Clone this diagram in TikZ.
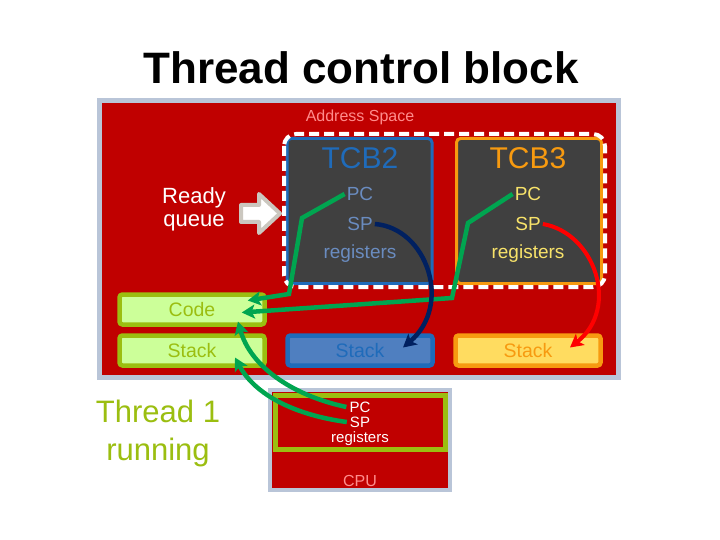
\documentclass[tikz,border=0pt]{standalone}
\usepackage{fontspec}
\setmainfont{Liberation Sans}
\usepackage{xcolor}
\usepackage{tikz}
\usetikzlibrary{positioning,arrows.meta}

\definecolor{asred}{HTML}{C00000}
\definecolor{frame}{HTML}{B9C5D8}
\definecolor{tcbgrey}{HTML}{404040}
\definecolor{tcbblue}{HTML}{1F6BBA}
\definecolor{tcbbluetext}{HTML}{6A8CC0}
\definecolor{tcborange}{HTML}{F79A10}
\definecolor{tcbyellow}{HTML}{F8E36A}
\definecolor{limegreen}{HTML}{9BBE10}
\definecolor{palegreen}{HTML}{CCFF99}
\definecolor{stackblue}{HTML}{4F7FC0}
\definecolor{stackyellow}{HTML}{FFDC60}
\definecolor{linkgreen}{HTML}{00A550}
\definecolor{navy}{HTML}{002060}
\definecolor{pinktext}{HTML}{FF8C8C}
\definecolor{arrowgrey}{HTML}{CBC7BF}

\begin{document}
\begin{tikzpicture}[x=1pt,y=-1pt,
    txt/.style={inner sep=0pt, anchor=center},
    tcbbox/.style={rectangle, draw, line width=3pt, fill=tcbgrey, rounded corners=4pt,
        minimum width=145pt, minimum height=145pt},
    membox/.style={rectangle, draw, line width=4.5pt, rounded corners=3pt,
        minimum width=145pt, minimum height=30pt, font=\fontsize{19.5}{20}\selectfont},
    regtxt/.style={txt, font=\fontsize{19}{19}\selectfont},
    link/.style={line width=4.5pt, draw=linkgreen, -{Stealth[length=13pt,width=14pt,inset=3pt]}},
]
    \useasboundingbox[fill=white] (0,0) rectangle (720,540);

    % title
    \node(title) [txt, font=\bfseries\fontsize{44}{44}\selectfont] at (361,68) {Thread control block};

    % address space
    \node(addr) [rectangle, draw=frame, line width=5pt, fill=asred, minimum width=519pt, minimum height=277pt] at (359,239) {};
    \node(addrlabel) [txt, text=pinktext, font=\fontsize{16}{16}\selectfont] at (360,117) {Address Space};

    % thread control blocks
    \node(tcb2) [tcbbox, draw=tcbblue] at (359.5,211) {};
    \node(tcb3) [tcbbox, draw=tcborange] at (529,211) {};
    \draw[white, line width=4pt, dash pattern=on 10pt off 5pt, rounded corners=12pt] (284,134) rectangle (605,287);

    \node(name2) [txt, text=tcbblue, font=\fontsize{30}{30}\selectfont] at (360,158) {TCB2};
    \node(pc2) [regtxt, text=tcbbluetext] at (360,194) {PC};
    \node(sp2) [regtxt, text=tcbbluetext] at (360,224) {SP};
    \node(reg2) [regtxt, text=tcbbluetext] at (360,254) {registers};

    \node(name3) [txt, text=tcborange, font=\fontsize{30}{30}\selectfont] at (528,158) {TCB3};
    \node(pc3) [regtxt, text=tcbyellow] at (528,194) {PC};
    \node(sp3) [regtxt, text=tcbyellow] at (528,224) {SP};
    \node(reg3) [regtxt, text=tcbyellow] at (528,254) {registers};

    % ready queue
    \node(ready) [txt, text=white, align=center, font=\fontsize{22}{23}\selectfont] at (194,209) {Ready\\queue};
    \draw[draw=arrowgrey, fill=white, line width=4pt, line join=round]
        (241,205) -- (259,205) -- (259,194) -- (280,213.5) -- (259,233) -- (259,222) -- (241,222) -- cycle;

    % memory
    \node(code) [membox, draw=limegreen, fill=palegreen, text=limegreen] at (192,309.5) {Code};
    \node(stack1) [membox, draw=limegreen, fill=palegreen, text=limegreen] at (192,350.5) {Stack};
    \node(stack2) [membox, draw=tcbblue, fill=stackblue, text=tcbblue] at (360,350.5) {Stack};
    \node(stack3) [membox, draw=tcborange, fill=stackyellow, text=tcborange] at (528,350.5) {Stack};

    % running thread and cpu
    \node(running) [txt, text=limegreen, align=center, font=\fontsize{31}{38}\selectfont] at (158,433) {Thread 1\\running};
    \node(cpu) [rectangle, draw=frame, line width=4pt, fill=asred, minimum width=180pt, minimum height=100pt] at (360,440) {};
    \node(regs) [rectangle, draw=limegreen, line width=5pt, fill=asred, minimum width=170pt, minimum height=54pt] at (360.5,422.5) {};
    \node(pc1) [txt, text=white, font=\fontsize{15}{15}\selectfont] at (360,407) {PC};
    \node(sp1) [txt, text=white, font=\fontsize{15}{15}\selectfont] at (360,422) {SP};
    \node(reg1) [txt, text=white, font=\fontsize{15}{15}\selectfont] at (360,439) {registers};
    \node(cpulabel) [txt, text=pinktext, font=\fontsize{16}{16}\selectfont] at (360,481) {CPU};

    % links
    \draw[link] ([xshift=-2pt]pc2.west) -- (302,218) -- (289,294) -- ([xshift=-19pt,yshift=9pt]code.east);
    \draw[link] ([xshift=-2pt]pc3.west) -- (468,223) -- (452,298) -- ([xshift=-25pt,yshift=-3pt]code.east);
    \draw[line width=4.5pt, draw=navy, -{Stealth[length=13pt,width=14pt,inset=3pt]}]
        ([xshift=2pt]sp2.east) .. controls (427,228) and (453,305) .. ([xshift=43pt,yshift=3pt]stack2.center);
    \draw[line width=4pt, draw=red, -{Stealth[length=13pt,width=14pt,inset=3pt]}]
        ([xshift=2pt]sp3.east) .. controls (595,233) and (620,308) .. ([xshift=42pt,yshift=3pt]stack3.center);
    \draw[link] ([xshift=-3pt]pc1.west) .. controls (290,395) and (250,365) .. ([xshift=46pt,yshift=-12pt]code.center);
    \draw[link] ([xshift=-3pt]sp1.west) .. controls (295,415) and (255,395) .. ([xshift=43pt,yshift=-7pt]stack1.center);
\end{tikzpicture}
\end{document}
